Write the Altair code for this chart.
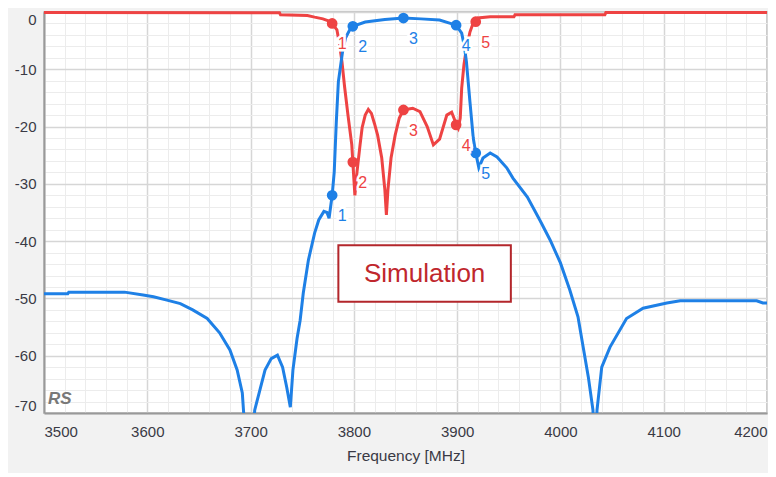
import altair as alt
import pandas as pd

BLUE = "#1e80e6"
RED = "#ee4343"
FONT = "Liberation Sans, Arial, sans-serif"

# S21 (blue) trace
s21_freq = [3500, 3523, 3524, 3578, 3596, 3606, 3619, 3632, 3644, 3658, 3670, 3680, 3687, 3692,
            3699, 3704, 3709, 3714, 3720, 3726, 3731, 3735, 3738.5, 3741, 3745, 3748, 3751, 3756,
            3762, 3766, 3771, 3774, 3776, 3779, 3781, 3783, 3785, 3789, 3792, 3796, 3799, 3811,
            3830, 3848, 3865, 3883, 3899, 3904.4, 3907, 3909, 3912.4, 3915.6, 3918, 3921, 3925,
            3932, 3938.6, 3948, 3954, 3968, 3980, 3990, 4000, 4009, 4017, 4022, 4027, 4031.5,
            4033.5, 4035.4, 4040, 4048, 4064, 4080, 4103, 4116, 4190, 4196, 4200]
s21_db = [-49.2, -49.2, -48.9, -48.9, -49.4, -49.7, -50.3, -50.9, -52.0, -53.5, -56.0, -59.0, -62.5, -66.5,
          -85.0, -69.5, -66.0, -62.5, -60.5, -59.9, -62.0, -65.5, -69.0, -62.5, -57.0, -53.8, -49.1, -43.3,
          -38.6, -36.3, -34.8, -35.0, -36.0, -32.0, -27.9, -19.2, -12.2, -7.0, -4.5, -3.1, -2.5, -1.75,
          -1.3, -1.05, -1.2, -1.4, -2.3, -3.7, -6.0, -8.7, -15.7, -22.0, -24.6, -27.2, -25.5,
          -24.6, -25.3, -27.2, -29.0, -32.3, -36.3, -39.8, -43.8, -48.5, -53.2, -58.5, -63.7, -69.5,
          -82.0, -69.5, -62.0, -58.5, -53.5, -51.7, -50.8, -50.4, -50.4, -50.8, -50.8]

# S11 (red) trace
s11_freq = [3500, 3728, 3729, 3755, 3762, 3770, 3776, 3779, 3783.6, 3786, 3788.5, 3791, 3794.3, 3798,
            3799, 3801, 3803, 3806, 3808, 3811, 3814, 3817, 3820, 3823, 3827, 3830, 3831.5, 3833,
            3836, 3840, 3844, 3848, 3857, 3864, 3871, 3877, 3883, 3890, 3894.7, 3898, 3899, 3901,
            3903, 3904.4, 3906.6, 3908, 3910, 3912.4, 3915, 3918, 3920, 3932, 3955, 3956, 4043,
            4044, 4200]
s11_db = [-0.1, -0.15, -0.5, -0.6, -0.9, -1.2, -1.6, -2.0, -3.1, -5.5, -8.7, -13.0, -18.0, -23.2,
          -26.2, -32.0, -28.0, -23.2, -20.2, -18.0, -17.0, -17.7, -19.5, -21.5, -25.5, -31.0, -35.4, -31.0,
          -25.5, -21.5, -18.5, -17.1, -16.8, -17.4, -20.0, -23.2, -22.2, -18.0, -17.5, -19.0, -19.7, -20.3,
          -18.5, -13.3, -9.2, -7.5, -5.5, -3.5, -2.2, -1.7, -1.05, -0.85, -0.85, -0.5, -0.5,
          -0.1, -0.1]

# markers
marker_freq = [3779, 3799, 3848, 3899, 3918]
marker_text = ["1", "2", "3", "4", "5"]
s21_marker_db = [-32.0, -2.5, -1.05, -2.3, -24.6]
s11_marker_db = [-2.0, -26.2, -17.1, -19.7, -1.7]

# annotation box
box_freq = [3785, 3952]
box_db = [-40.7, -50.6]
box_text = "Simulation"

x_grid = list(range(3500, 4201, 20))
y_grid = list(range(-70, 1, 2))

s21 = pd.DataFrame({"freq": s21_freq, "db": s21_db, "trace": "S21"})
s11 = pd.DataFrame({"freq": s11_freq, "db": s11_db, "trace": "S11"})
markers = pd.concat([
    pd.DataFrame({"freq": marker_freq, "db": s21_marker_db, "label": marker_text, "trace": "S21"}),
    pd.DataFrame({"freq": marker_freq, "db": s11_marker_db, "label": marker_text, "trace": "S11"}),
])
box = pd.DataFrame({"freq": [box_freq[0]], "freq2": [box_freq[1]],
                    "db": [box_db[0]], "db2": [box_db[1]],
                    "text": [box_text]})
box_mid = pd.DataFrame({"freq": [sum(box_freq) / 2], "db": [sum(box_db) / 2], "text": [box_text]})

x_axis = alt.Axis(
    values=x_grid,
    labelExpr="datum.value % 100 === 0 ? '' + datum.value : ''",
    ticks=False, tickSize=0, labelFlush=True, labelOverlap=False, labelPadding=11,
    labelFont=FONT, labelFontSize=15, labelColor="#3a3a45",
    grid=True,
    gridColor={"condition": {"test": "datum.value % 100 === 0", "value": "#d6d6d6"}, "value": "#ececec"},
    gridWidth={"condition": {"test": "datum.value % 100 === 0", "value": 1.5}, "value": 1},
    domainColor="#999999", domainWidth=2,
    title="Frequency [MHz]", titleFont=FONT, titleFontSize=15.5, titleFontWeight="normal",
    titleColor="#3a3a45", titlePadding=9,
)
y_axis = alt.Axis(
    values=y_grid,
    labelExpr="datum.value % 10 === 0 ? '' + datum.value : ''",
    ticks=False, tickSize=0, labelFlush=True, labelOverlap=False, labelPadding=8,
    labelFont=FONT, labelFontSize=15, labelColor="#3a3a45",
    grid=True,
    gridColor={"condition": {"test": "datum.value % 10 === 0", "value": "#d6d6d6"}, "value": "#ececec"},
    gridWidth={"condition": {"test": "datum.value % 10 === 0", "value": 1.5}, "value": 1},
    domainColor="#999999", domainWidth=2,
    title=None,
)

X = alt.X("freq:Q", scale=alt.Scale(domain=[3500, 4200], nice=False, zero=False), axis=x_axis)
Y = alt.Y("db:Q", scale=alt.Scale(domain=[-70, 0], nice=False, zero=False), axis=y_axis)
color = alt.Color("trace:N", scale=alt.Scale(domain=["S21", "S11"], range=[BLUE, RED]), legend=None)

box_layer = alt.Chart(box).mark_rect(fill="white", stroke="#b3262b", strokeWidth=2).encode(
    x=X, x2="freq2:Q", y=Y, y2="db2:Q")
box_label = alt.Chart(box_mid).mark_text(font=FONT, fontSize=26, color="#c0272d").encode(
    x=X, y=Y, text="text:N")

red_line = alt.Chart(s11).mark_line(strokeWidth=3, color=RED).encode(x=X, y=Y)
blue_line = alt.Chart(s21).mark_line(strokeWidth=3, color=BLUE, clip=True).encode(x=X, y=Y)

pts = alt.Chart(markers).mark_circle(size=115, opacity=1).encode(x=X, y=Y, color=color)
halo = alt.Chart(markers).mark_text(font=FONT, fontSize=16, dx=10, dy=21, stroke="white",
                                    strokeWidth=5, fill="white").encode(x=X, y=Y, text="label:N")
labels = alt.Chart(markers).mark_text(font=FONT, fontSize=16, dx=10, dy=21).encode(
    x=X, y=Y, text="label:N", color=color)

rs = alt.Chart(box).mark_text(text="RS", font="Liberation Sans", fontSize=17, fontStyle="italic",
                              fontWeight="bold", color="#787878", align="left",
                              baseline="bottom").encode(x=alt.value(4), y=alt.value(396))

chart = alt.layer(box_layer, box_label, red_line, blue_line, pts, halo, labels, rs).properties(
    width=723, height=401,
    autosize=alt.AutoSizeParams(type="none"),
    padding={"left": 36, "top": 4, "right": 1, "bottom": 60},
    background="#f2f2f2",
).configure_view(fill="white", stroke="#b8b8b8", strokeWidth=1.5)

chart.save("out.html", embed_options={"renderer": "svg", "actions": False})
